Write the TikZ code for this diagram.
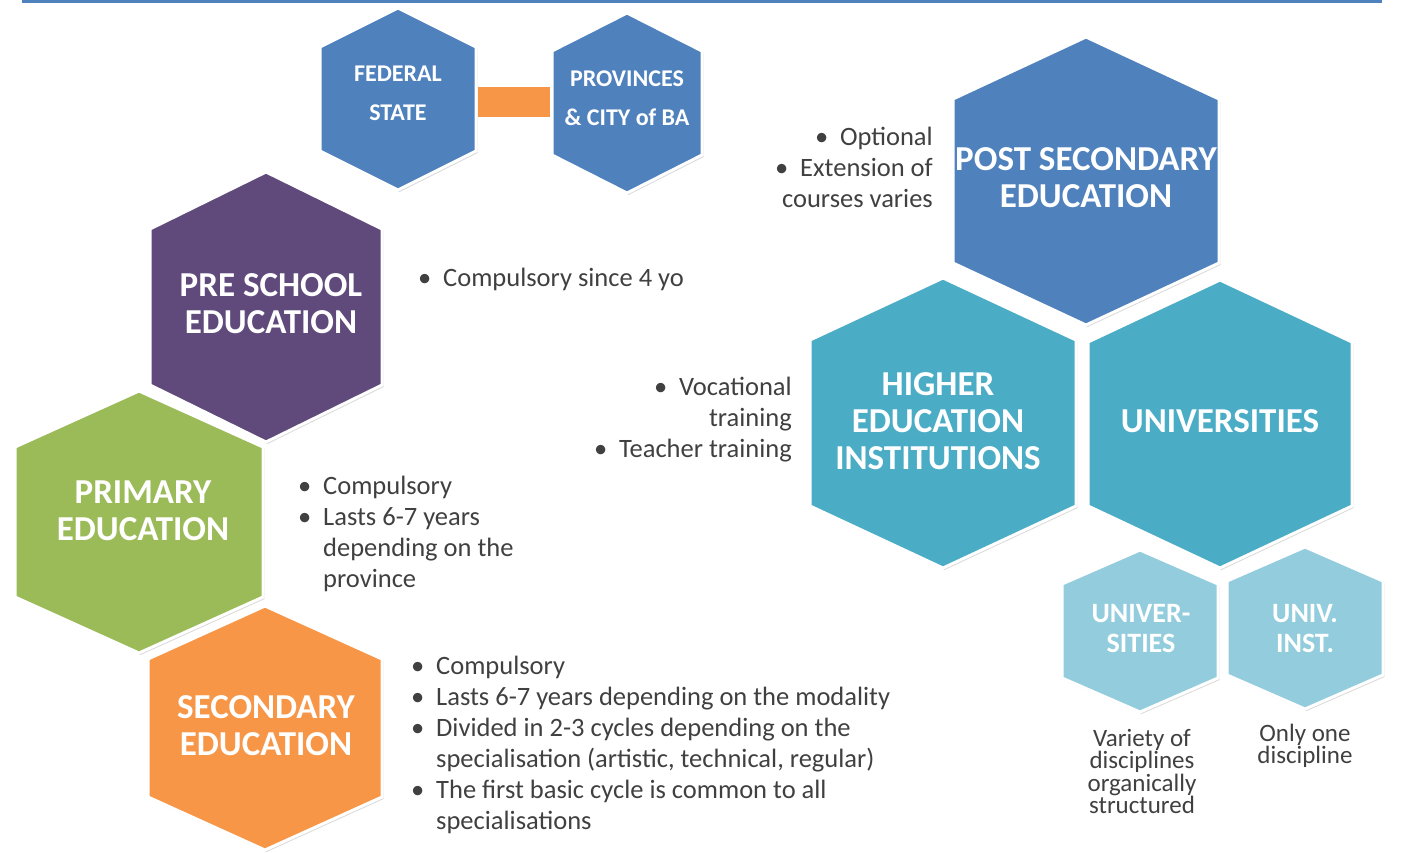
\documentclass[tikz,border=0pt]{standalone}
\usepackage{fontspec}
\setmainfont{Carlito}
\usepackage{xcolor}
\usepackage{tikz}
\usetikzlibrary{shadows}

\definecolor{stateblue}{HTML}{4F81BD}
\definecolor{previolet}{HTML}{604A7B}
\definecolor{primgreen}{HTML}{9BBB59}
\definecolor{secorange}{HTML}{F79646}
\definecolor{higherteal}{HTML}{4BACC6}
\definecolor{uniteal}{HTML}{93CDDD}
\definecolor{notegray}{HTML}{404040}

\newcommand{\bul}{\makebox[25pt][l]{\textbullet}}
\newcommand{\ind}{\hspace*{25pt}}

\tikzset{
  hexcell/.style={draw=white, line width=3pt, line join=miter,
    drop shadow={opacity=0.3, shadow xshift=1.5pt, shadow yshift=-2pt}},
  biglabel/.style={text=white, font=\fontsize{35}{37}\selectfont\bfseries, align=center, inner sep=0pt},
  statelabel/.style={text=white, font=\fontsize{24}{39}\selectfont\bfseries, align=center, inner sep=0pt},
  unilabel/.style={text=white, font=\fontsize{28}{30}\selectfont\bfseries, align=center, inner sep=0pt},
  notes/.style={text=notegray, font=\fontsize{26.5}{31}\selectfont, inner sep=0pt},
  caption/.style={text=notegray, font=\fontsize{25}{21}\selectfont, align=center, inner sep=0pt},
  linkbar/.style={draw=secorange, line width=30pt}
}

\begin{document}
\begin{tikzpicture}[x=1pt,y=-1pt]
      \useasboundingbox (0,0) rectangle (1403,852);
      \draw[stateblue, line width=4pt] (22,1) -- (1382,1);

      % top: state and provinces
      \filldraw[hexcell, fill=stateblue] (398,8) -- ++(78,39) -- ++(0,104) -- ++(-78,39) -- ++(-78,-39) -- ++(0,-104) -- cycle;
      \filldraw[hexcell, fill=stateblue] (627,13) -- ++(75,38) -- ++(0,104) -- ++(-75,38) -- ++(-75,-38) -- ++(0,-104) -- cycle;
      \node[statelabel, minimum width=160pt] (fed) at (398,93) {FEDERAL\\STATE};
      \node[statelabel, minimum width=154pt] (prov) at (627,98) {PROVINCES\\\& CITY of BA};
      \draw[linkbar] ([yshift=-9pt]fed.east) -- ([yshift=-4pt]prov.west);

      % left column: compulsory levels
      \filldraw[hexcell, fill=previolet] (266,172) -- ++(116,57) -- ++(0,156) -- ++(-116,57) -- ++(-116,-57) -- ++(0,-156) -- cycle;
      \filldraw[hexcell, fill=primgreen] (139,391) -- ++(124,56) -- ++(0,150) -- ++(-124,56) -- ++(-124,-56) -- ++(0,-150) -- cycle;
      \filldraw[hexcell, fill=secorange] (265,606) -- ++(117,53) -- ++(0,138) -- ++(-117,53) -- ++(-117,-53) -- ++(0,-138) -- cycle;
      \node[biglabel] (pre) at (271,304) {PRE SCHOOL\\EDUCATION};
      \node[biglabel] (prim) at (143,511) {PRIMARY\\EDUCATION};
      \node[biglabel] (sec) at (266,726) {SECONDARY\\EDUCATION};

      \node[notes, anchor=north west, align=left] (prenote) at (418,268) {\bul Compulsory since 4 yo};
      \node[notes, anchor=north west, align=left] (primnote) at (298,476)
        {\bul Compulsory\\\bul Lasts 6-7 years\\\ind depending on the\\\ind province};
      \node[notes, anchor=north west, align=left] (secnote) at (411,656)
        {\bul Compulsory\\\bul Lasts 6-7 years depending on the modality\\\bul Divided in 2-3 cycles depending on the\\\ind specialisation (artistic, technical, regular)\\\bul The first basic cycle is common to all\\\ind specialisations};

      % right column: post secondary
      \filldraw[hexcell, fill=stateblue] (1086,37) -- ++(133,62) -- ++(0,164) -- ++(-133,62) -- ++(-133,-62) -- ++(0,-164) -- cycle;
      \filldraw[hexcell, fill=higherteal] (943,278) -- ++(133,62) -- ++(0,166) -- ++(-133,62) -- ++(-133,-62) -- ++(0,-166) -- cycle;
      \filldraw[hexcell, fill=higherteal] (1220,280) -- ++(132,62) -- ++(0,164) -- ++(-132,62) -- ++(-132,-62) -- ++(0,-164) -- cycle;
      \filldraw[hexcell, fill=uniteal] (1140,550) -- ++(78,34) -- ++(0,94) -- ++(-78,34) -- ++(-78,-34) -- ++(0,-94) -- cycle;
      \filldraw[hexcell, fill=uniteal] (1305,547) -- ++(78,34) -- ++(0,94) -- ++(-78,34) -- ++(-78,-34) -- ++(0,-94) -- cycle;
      \node[biglabel] (post) at (1086,178) {POST SECONDARY\\EDUCATION};
      \node[biglabel] (higher) at (938,421) {HIGHER\\EDUCATION\\INSTITUTIONS};
      \node[biglabel] (univ) at (1220,421) {UNIVERSITIES};
      \node[unilabel] (unis) at (1141,629) {UNIVER-\\SITIES};
      \node[unilabel] (inst) at (1305,629) {UNIV.\\INST.};

      \node[notes, anchor=north east, align=right] (postnote) at (933,127)
        {\bul Optional\\\bul Extension of\\courses varies};
      \node[notes, anchor=north east, align=right] (highnote) at (792,377)
        {\bul Vocational\\training\\\bul Teacher training};
      \node[caption, anchor=north] (unisnote) at (1142,729) {Variety of\\disciplines\\organically\\structured};
      \node[caption, anchor=north] (instnote) at (1305,724) {Only one\\discipline};
    \end{tikzpicture}
\end{document}
